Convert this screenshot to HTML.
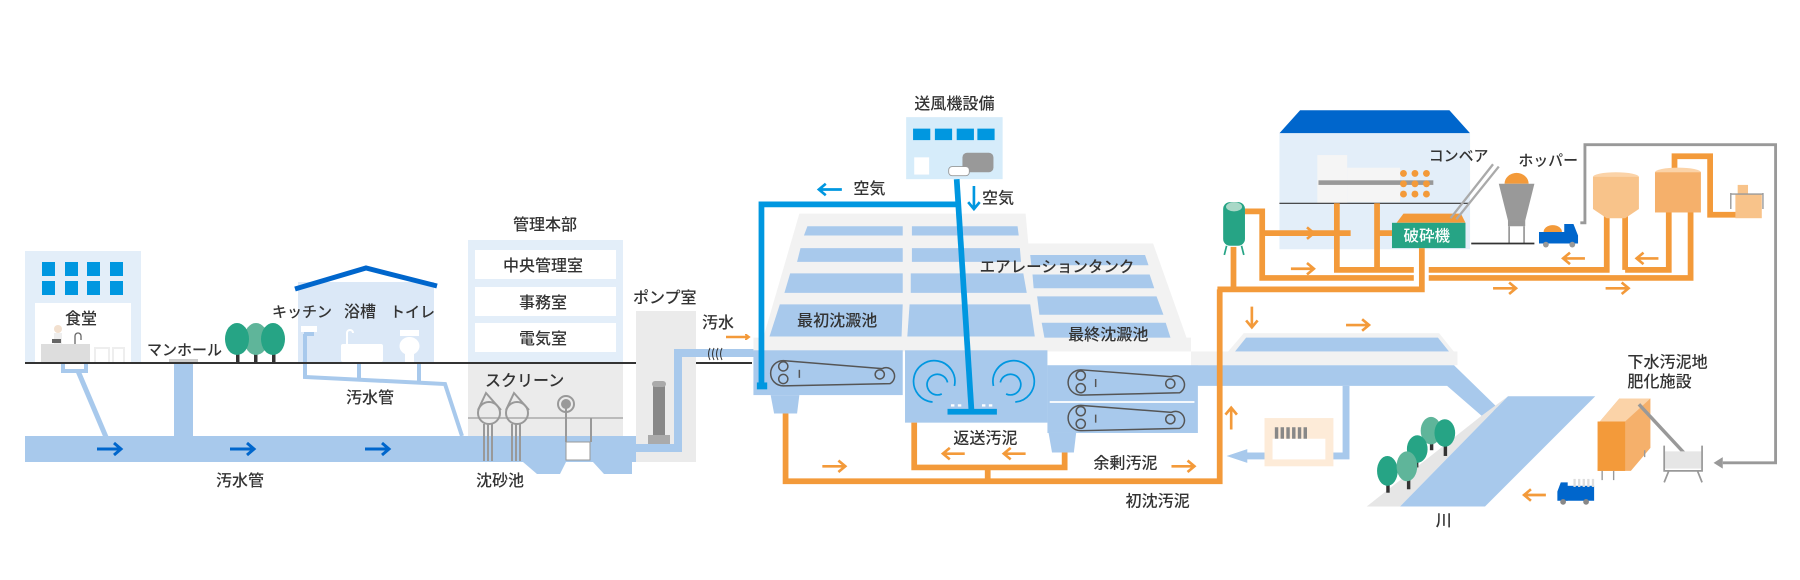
<!DOCTYPE html>
<html><head><meta charset="utf-8"><style>
html,body{margin:0;padding:0;background:#fff;}
svg{display:block;}
text{font-family:"Liberation Sans","Noto Sans CJK JP",sans-serif;fill:#333;font-size:16px;font-weight:500;}
.s text{font-size:14px;}
</style></head><body>
<svg width="1800" height="580" viewBox="0 0 1800 580" xmlns="http://www.w3.org/2000/svg">
<defs>
<marker id="ao" markerWidth="6" markerHeight="6" refX="3" refY="3" orient="auto" markerUnits="userSpaceOnUse"><path d="M0,0 L4,3 L0,6" fill="none" stroke="#f39a3a" stroke-width="2"/></marker>
</defs>
<rect x="25" y="436" width="612" height="26" fill="#a8c9ec"/>
<polygon points="523,462 537,474 560,474 566,462" fill="#a8c9ec"/>
<polygon points="593,462 604,474 632,474 632,462" fill="#a8c9ec"/>
<g stroke="#0066cc" stroke-width="3" fill="none">
<path d="M97,449 H120 M114,443 L121,449 L114,455"/>
<path d="M230,449 H253 M247,443 L254,449 L247,455"/>
<path d="M365,449 H388 M382,443 L389,449 L382,455"/>
</g>
<text x="216" y="486">汚水管</text>
<rect x="25" y="251" width="116" height="112" fill="#e3eef9"/>
<g fill="#0097e0">
<rect x="42" y="262" width="13" height="14"/><rect x="65" y="262" width="13" height="14"/><rect x="87" y="262" width="13" height="14"/><rect x="110" y="262" width="13" height="14"/>
<rect x="42" y="281" width="13" height="14"/><rect x="65" y="281" width="13" height="14"/><rect x="87" y="281" width="13" height="14"/><rect x="110" y="281" width="13" height="14"/>
</g>
<rect x="35" y="303" width="96" height="60" fill="#fff"/>
<text x="65" y="324">食堂</text>
<rect x="41" y="344" width="49" height="19" fill="#ddd"/>
<circle cx="58" cy="329" r="4" fill="#f2e0cf"/><rect x="54" y="333" width="8" height="11" fill="#eee"/>
<rect x="52" y="339" width="9" height="4" fill="#666"/>
<path d="M75,344 V336 a3,3 0 0 1 6,0 V340" stroke="#666" stroke-width="1.3" fill="none"/>
<path d="M95,363 V348 H109 V363 M113,363 V348 H124 V363" stroke="#eee" stroke-width="2" fill="none"/>
<path d="M63,363 V371 H86 V363" stroke="#a8c9ec" stroke-width="4" fill="none"/>
<path d="M78,371 L106,437" stroke="#a8c9ec" stroke-width="5"/>
<rect x="169" y="359" width="29" height="4" fill="#ccc"/>
<rect x="174" y="363" width="19" height="74" fill="#a8c9ec"/>
<text x="147" y="355" style="font-size:15px">マンホール</text>
<rect x="236" y="348" width="3.5" height="15" fill="#333"/><rect x="254" y="348" width="3.5" height="15" fill="#333"/><rect x="272" y="348" width="3.5" height="15" fill="#333"/>
<ellipse cx="256" cy="339" rx="12" ry="16" fill="#5fb59a"/>
<ellipse cx="237" cy="339" rx="12" ry="16" fill="#26a485"/>
<ellipse cx="273" cy="339" rx="12" ry="16" fill="#26a485"/>
<rect x="298" y="282" width="136" height="81" fill="#dbe8f7"/>
<polyline points="295,289 366,268 437,286" fill="none" stroke="#0066cc" stroke-width="5"/>
<text x="272" y="317" style="font-size:15px">キッチン</text>
<text x="344" y="317">浴槽</text>
<text x="390" y="317" style="font-size:15px">トイレ</text>
<rect x="301" y="326" width="16" height="6" fill="#fff"/>
<rect x="304" y="332" width="10" height="4" fill="#a8c9ec"/>
<rect x="341" y="344" width="42" height="18" rx="2" fill="#fff"/>
<path d="M347,344 V333 a3,3 0 0 1 6,0" stroke="#fff" stroke-width="2" fill="none"/>
<rect x="400" y="330" width="19" height="6" fill="#fff"/>
<ellipse cx="409.5" cy="346" rx="10" ry="9" fill="#fff"/>
<rect x="405" y="352" width="9" height="11" fill="#fff"/>
<path d="M305,334 V377 L445,384 L462,436" stroke="#a8c9ec" stroke-width="4" fill="none"/>
<path d="M359,363 V380 M419,363 V383" stroke="#a8c9ec" stroke-width="4" fill="none"/>
<text x="346" y="403">汚水管</text>
<text x="513" y="230">管理本部</text>
<rect x="468" y="240" width="155" height="123" fill="#e3eef9"/>
<rect x="475" y="250" width="141" height="29" fill="#fff"/>
<rect x="475" y="287" width="141" height="29" fill="#fff"/>
<rect x="475" y="323" width="141" height="29" fill="#fff"/>
<text x="503" y="271">中央管理室</text>
<text x="519" y="308">事務室</text>
<text x="519" y="344">電気室</text>
<rect x="468" y="363" width="155" height="73" fill="#ebebeb"/>
<line x1="468" y1="418" x2="623" y2="418" stroke="#aaa" stroke-width="1.5"/>
<text x="485" y="386">スクリーン</text>
<g stroke="#999" stroke-width="2" fill="none">
<circle cx="489" cy="413" r="11"/><circle cx="517" cy="413" r="11"/>
<path d="M478,410 L486,393 L501,410 M506,410 L514,393 L529,410"/>
<path d="M484,424 V461 M488,424 V461 M492,424 V461 M512,424 V461 M516,424 V461 M520,424 V461"/>
<circle cx="566" cy="404" r="8"/><line x1="566" y1="404" x2="566" y2="442"/><line x1="591" y1="418" x2="591" y2="442"/>
</g>
<circle cx="566" cy="404" r="5" fill="#999"/>
<rect x="566" y="442" width="24" height="18" fill="#fff" stroke="#999" stroke-width="1"/>
<text x="476" y="486">沈砂池</text>
<line x1="25" y1="363" x2="752" y2="363" stroke="#333" stroke-width="2"/>
<text x="633" y="303">ポンプ室</text>
<rect x="636" y="311" width="60" height="151" fill="#ebebeb"/>
<rect x="653" y="385" width="12" height="52" fill="#888"/>
<rect x="652" y="381" width="14" height="6" rx="3" fill="#aaa"/>
<rect x="648" y="435" width="22" height="12" fill="#aaa"/>
<path d="M636,448 H678 V353 H757" stroke="#a8c9ec" stroke-width="8" fill="none"/>
<text x="702" y="328">汚水</text>
<path d="M726,337 H748" stroke="#f39a3a" stroke-width="2.5" marker-end="url(#ao)"/>
<path d="M710,348 q-3,6 0,12 M714,348 q-3,6 0,12 M718,348 q-3,6 0,12 M722,348 q-3,6 0,12" stroke="#333" stroke-width="1" fill="none"/>
<g transform="scale(1.1485)">
<polygon points="696,186 893,186 903,296 664,296" fill="#f2f2f2"/>
<polygon points="893,212 1004,212 1037,305 903,305" fill="#f2f2f2"/>
<g fill="#a8c9ec">
<polygon points="703,197 786,197 786,205 700,205"/>
<polygon points="794,197 886,197 887,205 794,205"/>
<polygon points="697,216 786,216 786,228 694,228"/>
<polygon points="794,216 888,216 889,228 794,228"/>
<polygon points="688,238 786,238 786,255 683,255"/>
<polygon points="793,238 891,238 894,255 793,255"/>
<polygon points="679,265 786,265 785,293 670,293"/>
<polygon points="792,265 897,265 901,293 790,293"/>
<polygon points="897,222 997,222 1000,231 898,231"/>
<polygon points="899,239 1001,239 1005,251 900,251"/>
<polygon points="903,258 1007,258 1013,274 905,274"/>
<polygon points="907,281 1015,281 1022,303 911,303"/>
</g>
<rect x="656" y="294" width="381" height="12" fill="#f2f2f2"/>
<rect x="656" y="305" width="130" height="39" fill="#a8c9ec"/>
<polygon points="671,344 696,344 694,360 674,360" fill="#a8c9ec"/>
<rect x="788" y="305" width="124" height="63" fill="#a8c9ec"/>
<rect x="912" y="318" width="131" height="59" fill="#a8c9ec"/>
<polygon points="913,377 937,377 935,394 916,394" fill="#a8c9ec"/>
<line x1="914" y1="350" x2="1040" y2="350" stroke="#fff" stroke-width="1.5"/>
<rect x="1037" y="310" width="60" height="8" fill="#f2f2f2"/>
<polygon points="1066,310 1083,290 1253,290 1269,310" fill="#f2f2f2"/>
<polygon points="1073,309 1085,294 1252,294 1264,309" fill="#a8c9ec"/>
<rect x="1037" y="306" width="232" height="12" fill="#f2f2f2"/>
<polygon points="1037,318 1266,318 1305,356 1290,362 1260,336 1037,336" fill="#a8c9ec"/>
<polygon points="1290,362 1313,345 1219,441 1190,441" fill="#e6e6e6"/>
<polygon points="1313,345 1389,345 1293,441 1219,441" fill="#a8c9ec"/>
<path d="M1172,336 V397 H1085" stroke="#a8c9ec" stroke-width="6" fill="none"/>
<polygon points="1086,391 1068,397 1086,403" fill="#a8c9ec"/>
<rect x="1101" y="364" width="60" height="42" fill="#fdebd8"/>
<rect x="1108" y="382" width="46" height="18" fill="#fff"/>
<g fill="#888"><rect x="1110" y="372" width="3" height="10"/><rect x="1115" y="372" width="3" height="10"/><rect x="1120" y="372" width="3" height="10"/><rect x="1125" y="372" width="3" height="10"/><rect x="1130" y="372" width="3" height="10"/><rect x="1135" y="372" width="3" height="10"/></g>
<rect x="1207" y="415" width="3" height="14" fill="#333"/><rect x="1225" y="412" width="3" height="14" fill="#333"/><rect x="1232" y="395" width="3" height="12" fill="#333"/><rect x="1245" y="382" width="3" height="10" fill="#333"/><rect x="1257" y="385" width="3" height="12" fill="#333"/>
<ellipse cx="1246" cy="375" rx="9" ry="12" fill="#5fb59a"/>
<ellipse cx="1258" cy="377" rx="9" ry="12" fill="#26a485"/>
<ellipse cx="1234" cy="391" rx="9" ry="12" fill="#26a485"/>
<ellipse cx="1208" cy="410" rx="9" ry="13" fill="#26a485"/>
<ellipse cx="1225" cy="406" rx="9" ry="13" fill="#5fb59a"/>
<g stroke="#555" stroke-width="1.3" fill="none">
<path d="M682,314 L768,321 A7,7 0 0 1 775,334 L682,336 A11,11 0 0 1 682,314 Z"/>
<circle cx="682" cy="319" r="4"/><circle cx="682" cy="330" r="4"/><circle cx="766" cy="326" r="4"/><line x1="696" y1="322" x2="696" y2="329"/>
<path d="M941,322 L1020,328 A7,7 0 0 1 1027,342 L941,344 A11,11 0 0 1 941,322 Z"/>
<circle cx="941" cy="327" r="4"/><circle cx="941" cy="338" r="4"/><circle cx="1019" cy="334" r="4"/><line x1="954" y1="330" x2="954" y2="337"/>
<path d="M941,353 L1020,359 A7,7 0 0 1 1027,373 L941,375 A11,11 0 0 1 941,353 Z"/>
<circle cx="941" cy="358" r="4"/><circle cx="941" cy="369" r="4"/><circle cx="1019" cy="365" r="4"/><line x1="954" y1="361" x2="954" y2="368"/>
</g>
<g stroke="#0097e0" stroke-width="1.5" fill="none">
<path d="M812,350 A18,18 0 1 1 831,336"/><path d="M820,343 A9,9 0 1 1 825,333"/>
<path d="M884,350 A18,18 0 1 0 865,336"/><path d="M876,343 A9,9 0 1 0 871,333"/>
</g>
<g fill="#fff"><rect x="828" y="352" width="3" height="2"/><rect x="834" y="352" width="3" height="2"/><rect x="855" y="352" width="3" height="2"/><rect x="861" y="352" width="3" height="2"/></g>
<rect x="789" y="102" width="84" height="54" fill="#d6ecfa"/>
<g fill="#0097e0"><rect x="795" y="112" width="15" height="10"/><rect x="814" y="112" width="15" height="10"/><rect x="833" y="112" width="15" height="10"/><rect x="851" y="112" width="15" height="10"/></g>
<rect x="796" y="137" width="13" height="15" fill="#fff"/>
<rect x="838" y="133" width="27" height="17" rx="4" fill="#999"/>
<rect x="826" y="145" width="18" height="8" rx="3" fill="#fff" stroke="#999" stroke-width="0.8"/>
<g stroke="#0097e0" stroke-width="5" fill="none">
<path d="M833,156 L846,360"/>
<path d="M834,178 H663 V337"/>
</g>
<rect x="825" y="356" width="43" height="5" fill="#0097e0"/>
<rect x="659" y="333" width="9" height="6" fill="#0097e0"/>
<path d="M733,165 H714 M719,160 L713,165 L719,170" stroke="#0097e0" stroke-width="2.3" fill="none"/>
<path d="M848,162 V181 M843,176 L848,182 L853,176" stroke="#0097e0" stroke-width="2.3" fill="none"/>
<g stroke="#f39a3a" stroke-width="5" fill="none">
<path d="M684,360 V419 H1062 V252"/>
<path d="M796,368 V407 H927 V394"/>
<path d="M860,407 V419"/>
</g>
<g stroke="#f39a3a" stroke-width="2.3" fill="none">
<path d="M716,406 H735 M730,401 L736,406 L730,411"/>
<path d="M840,395 H822 M827,390 L821,395 L827,400"/>
<path d="M893,395 H875 M880,390 L874,395 L880,400"/>
<path d="M1020,406 H1039 M1034,401 L1040,406 L1034,411"/>
<path d="M1072,374 V356 M1067,361 L1072,355 L1077,361"/>
<path d="M1090,267 V284 M1085,279 L1090,285 L1095,279"/>
<path d="M1172,283 H1191 M1186,278 L1192,283 L1186,288"/>
</g>
<polygon points="1114,116 1132,96 1262,96 1280,116" fill="#0066cc"/>
<rect x="1114" y="116" width="166" height="101" fill="#e3eef9"/>
<rect x="1147" y="135" width="26" height="42" fill="#f5f5f5"/>
<rect x="1173" y="146" width="46" height="30" fill="#f5f5f5"/>
<rect x="1148" y="157" width="100" height="4" fill="#999"/>
<g fill="#f39a3a">
<circle cx="1222" cy="151" r="3"/><circle cx="1232" cy="151" r="3"/><circle cx="1242" cy="151" r="3"/>
<circle cx="1222" cy="160" r="3"/><circle cx="1232" cy="160" r="3"/><circle cx="1242" cy="160" r="3"/>
<circle cx="1222" cy="169" r="3"/><circle cx="1232" cy="169" r="3"/><circle cx="1242" cy="169" r="3"/>
</g>
<line x1="1114" y1="177" x2="1279" y2="177" stroke="#333" stroke-width="1"/>
<g stroke="#f39a3a" stroke-width="5" fill="none">
<path d="M1060,252 H1238 V216"/>
<path d="M1074,215 V252"/>
<path d="M1084,184 H1099 V242 H1231"/>
<path d="M1099,203 H1176"/>
<path d="M1164,177 V235 H1231 M1199,177 V235 M1199,203 H1212"/>
<path d="M1244,235 H1399 V188 M1415,188 V235"/>
<path d="M1244,242 H1472 V184 M1453,184 V235 H1415"/>
<path d="M1458,148 V136 H1489 V187 H1513"/>
</g>
<g stroke="#f39a3a" stroke-width="2.3" fill="none">
<path d="M1124,203 H1143 M1138,198 L1144,203 L1138,208"/>
<path d="M1124,234 H1143 M1138,229 L1144,234 L1138,239"/>
<path d="M1380,225 H1362 M1367,220 L1361,225 L1367,230"/>
<path d="M1444,225 H1426 M1431,220 L1425,225 L1431,230"/>
<path d="M1300,251 H1319 M1314,246 L1320,251 L1314,256"/>
<path d="M1398,251 H1417 M1412,246 L1418,251 L1412,256"/>
<path d="M1346,431 H1328 M1333,426 L1327,431 L1333,436"/>
</g>
<rect x="1065" y="176" width="19" height="38" rx="6" fill="#26a485"/>
<ellipse cx="1074.5" cy="180" rx="7" ry="4" fill="#a9d8c7"/>
<path d="M1068,214 L1066,222 M1081,214 L1083,222" stroke="#26a485" stroke-width="1.5"/>
<polygon points="1216,194 1222,186 1272,186 1276,194" fill="#f39a3a"/>
<rect x="1212" y="194" width="64" height="22" fill="#26a485"/>
<path d="M1263,190 L1300,143 M1268,191 L1305,145" stroke="#aaa" stroke-width="2"/>
<path d="M1310,160 A10,9 0 0 1 1331,160 Z" fill="#f39a3a"/>
<polygon points="1305,160 1336,160 1328,192 1313,192" fill="#999"/>
<rect x="1313" y="192" width="15" height="5" fill="#999"/>
<path d="M1314,197 V212 M1327,197 V212" stroke="#999" stroke-width="1.5"/>
<line x1="1281" y1="212" x2="1336" y2="212" stroke="#333" stroke-width="1.5"/>
<rect x="1340" y="202" width="24" height="10" fill="#0066cc"/>
<path d="M1344,202 A8,6 0 0 1 1360,202 Z" fill="#f39a3a"/>
<polygon points="1362,195 1370,195 1374,205 1374,212 1362,212" fill="#0066cc"/>
<circle cx="1346" cy="213" r="2.5" fill="#999"/><circle cx="1369" cy="213" r="2.5" fill="#999"/>
<path d="M1376,194 H1380 V126 H1546 V403 H1500" stroke="#999" stroke-width="2.5" fill="none"/>
<polygon points="1500,398 1492,403 1500,408" fill="#999"/>
<ellipse cx="1407" cy="154" rx="20" ry="4" fill="#fbd3a8"/>
<polygon points="1387,154 1427,154 1427,182 1415,190 1399,190 1387,182" fill="#f8c38a"/>
<ellipse cx="1461" cy="150" rx="20" ry="4" fill="#fbd3a8"/>
<rect x="1441" y="150" width="40" height="35" fill="#f5b06b"/>
<rect x="1513" y="161" width="9" height="8" fill="#f8c38a"/>
<rect x="1511" y="169" width="23" height="21" fill="#f8c38a"/>
<path d="M1507,168 V182 M1535,168 V182 M1507,169 H1535" stroke="#999" stroke-width="1.2" fill="none"/>
<polygon points="1393,367 1410,347 1437,347 1437,390 1420,410 1391,410" fill="#f5b06b"/>
<polygon points="1391,367 1415,367 1415,410 1391,410" fill="#f39a3a"/>
<polygon points="1393,367 1410,347 1437,347 1415,367" fill="#fbd3a8"/>
<path d="M1395,410 V418 M1405,410 V418 M1432,392 V398" stroke="#999" stroke-width="1.2"/>
<path d="M1427,352 L1466,394" stroke="#999" stroke-width="3"/>
<rect x="1449" y="393" width="33" height="15" fill="#e6e6e6"/>
<path d="M1449,388 V410 H1482 V388 M1453,410 L1449,420 M1478,410 L1482,420" stroke="#999" stroke-width="1.5" fill="none"/>
<rect x="1363" y="423" width="25" height="13" fill="#0066cc"/>
<g fill="#ddd"><rect x="1370" y="417" width="2" height="7"/><rect x="1374" y="417" width="2" height="7"/><rect x="1378" y="417" width="2" height="7"/><rect x="1382" y="417" width="2" height="7"/><rect x="1386" y="417" width="2" height="7"/></g>
<polygon points="1356,428 1359,420 1365,420 1365,436 1356,436" fill="#0066cc"/>
<circle cx="1361" cy="437" r="2.5" fill="#888"/><circle cx="1381" cy="437" r="2.5" fill="#888"/>
</g>
<g class="s" transform="scale(1.1485)">
<text x="1222" y="210" style="fill:#fff;font-size:13.5px">破砕機</text>
<text x="1244" y="140" style="font-size:13px">コンベア</text>
<text x="1322" y="144" style="font-size:13px">ホッパー</text>
<text x="1417" y="320">下水汚泥地</text>
<text x="1417" y="337">肥化施設</text>
<text x="796" y="95">送風機設備</text>
<text x="743" y="169">空気</text>
<text x="855" y="177">空気</text>
<text x="694" y="284">最初沈澱池</text>
<text x="853" y="237" style="font-size:13.5px">エアレーションタンク</text>
<text x="930" y="296">最終沈澱池</text>
<text x="830" y="386">返送汚泥</text>
<text x="952" y="408">余剰汚泥</text>
<text x="980" y="441">初沈汚泥</text>
<text x="1250" y="458">川</text>
</g>
</svg>
</body></html>
